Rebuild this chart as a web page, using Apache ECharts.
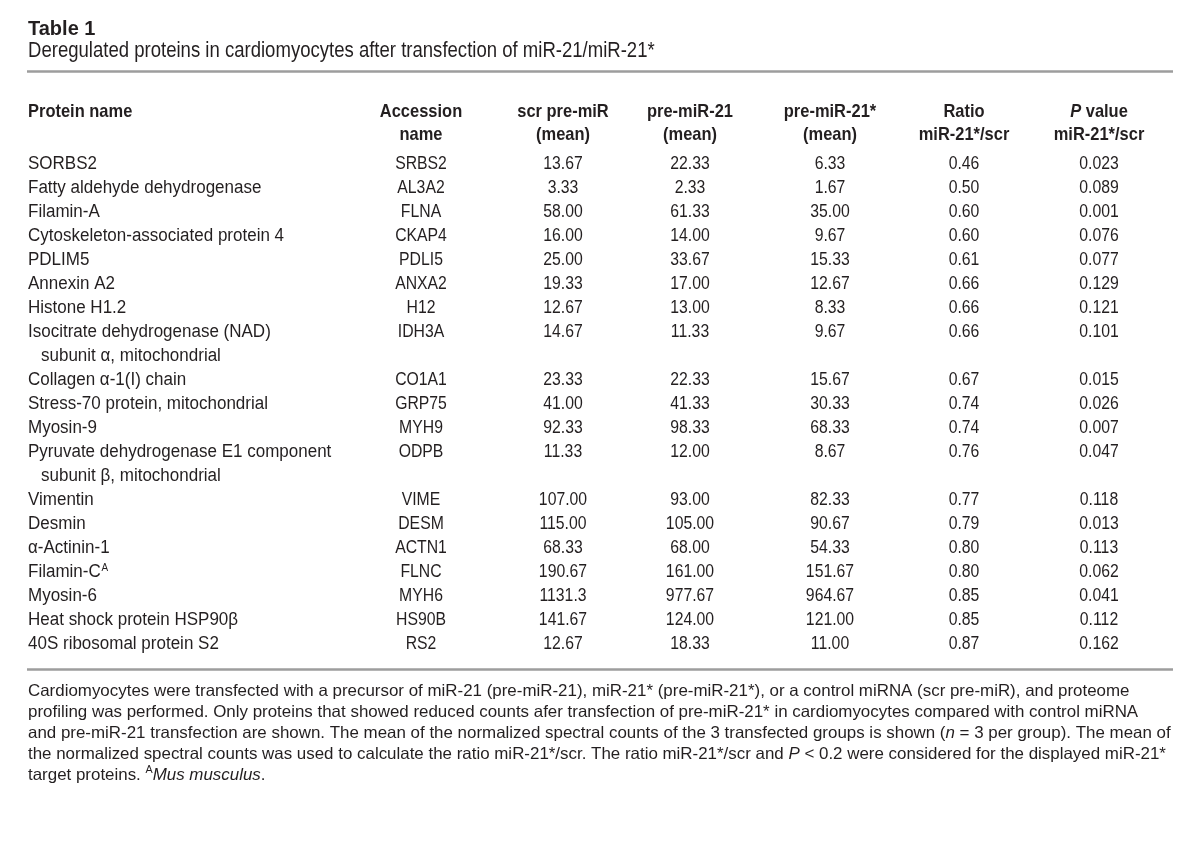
<!DOCTYPE html>
<html><head><meta charset="utf-8">
<script src="https://cdn.jsdelivr.net/npm/echarts@6/dist/echarts.min.js"></script>
<style>html,body{margin:0;padding:0;background:#fff}#c{width:1200px;height:843px}</style>
</head><body><div id="c"></div>
<script>
// ---------------- data ----------------
const TITLE = 'Table 1';
const SUBTITLE = 'Deregulated proteins in cardiomyocytes after transfection of miR-21/miR-21*';
const HEADERS = [
  ['Protein name', ''],
  ['Accession', 'name'],
  ['scr pre-miR', '(mean)'],
  ['pre-miR-21', '(mean)'],
  ['pre-miR-21*', '(mean)'],
  ['Ratio', 'miR-21*/scr'],
  ['{bi|P} value', 'miR-21*/scr']
];
const proteinNames = [
  'SORBS2',
  'Fatty aldehyde dehydrogenase',
  'Filamin-A',
  'Cytoskeleton-associated protein 4',
  'PDLIM5',
  'Annexin A2',
  'Histone H1.2',
  'Isocitrate dehydrogenase (NAD)\nsubunit \u03b1, mitochondrial',
  'Collagen \u03b1-1(I) chain',
  'Stress-70 protein, mitochondrial',
  'Myosin-9',
  'Pyruvate dehydrogenase E1 component\nsubunit \u03b2, mitochondrial',
  'Vimentin',
  'Desmin',
  '\u03b1-Actinin-1',
  'Filamin-C{sup|A}',
  'Myosin-6',
  'Heat shock protein HSP90\u03b2',
  '40S ribosomal protein S2'
];
const accessions = ['SRBS2','AL3A2','FLNA','CKAP4','PDLI5','ANXA2','H12','IDH3A','CO1A1','GRP75','MYH9','ODPB','VIME','DESM','ACTN1','FLNC','MYH6','HS90B','RS2'];
const scrMean          = [13.67, 3.33, 58.00, 16.00, 25.00, 19.33, 12.67, 14.67, 23.33, 41.00, 92.33, 11.33, 107.00, 115.00, 68.33, 190.67, 1131.3, 141.67, 12.67];
const preMiR21Mean     = [22.33, 2.33, 61.33, 14.00, 33.67, 17.00, 13.00, 11.33, 22.33, 41.33, 98.33, 12.00, 93.00, 105.00, 68.00, 161.00, 977.67, 124.00, 18.33];
const preMiR21StarMean = [6.33, 1.67, 35.00, 9.67, 15.33, 12.67, 8.33, 9.67, 15.67, 30.33, 68.33, 8.67, 82.33, 90.67, 54.33, 151.67, 964.67, 121.00, 11.00];
const ratioStarScr     = [0.46, 0.50, 0.60, 0.60, 0.61, 0.66, 0.66, 0.66, 0.67, 0.74, 0.74, 0.76, 0.77, 0.79, 0.80, 0.80, 0.85, 0.85, 0.87];
const pValueStarScr    = [0.023, 0.089, 0.001, 0.076, 0.077, 0.129, 0.121, 0.101, 0.015, 0.026, 0.007, 0.047, 0.118, 0.013, 0.113, 0.062, 0.041, 0.112, 0.162];
const FOOTNOTE = [
  'Cardiomyocytes were transfected with a precursor of miR-21 (pre-miR-21), miR-21* (pre-miR-21*), or a control miRNA (scr pre-miR), and proteome',
  'profiling was performed. Only proteins that showed reduced counts afer transfection of pre-miR-21* in cardiomyocytes compared with control miRNA',
  'and pre-miR-21 transfection are shown. The mean of the normalized spectral counts of the 3 transfected groups is shown ({i|n} = 3 per group). The mean of',
  'the normalized spectral counts was used to calculate the ratio miR-21*/scr. The ratio miR-21*/scr and {i|P} < 0.2 were considered for the displayed miR-21*',
  'target proteins. {sup|A}{i|Mus musculus}.'
];

// ---------------- layout / style ----------------
const INK = '#231f20';
const RULE = '#9d9d9d';
const SANS = "'Liberation Sans', Arial, Helvetica, sans-serif";
const COL_X = [28, 421, 563, 690, 830, 964, 1099];
const INDENT = 13;
const BODY_SIZE = 18.8, NAME_SX = 0.905, CELL_SX = 0.84;
const HEAD_SIZE = 18.5, HEAD_SX = 0.89;
const HEAD_LINES = [-2.19, -1.21];

function fmtMean(v) { return v >= 1000 ? v.toFixed(1) : v.toFixed(2); }

// line index where each row starts (multi-line names take more lines)
const lineStart = [];
(function () {
  let l = 0;
  proteinNames.forEach(n => { lineStart.push(l); l += n.split('\n').length; });
})();

function richFor(size, bold) {
  const w = bold ? 'bold' : 'normal';
  return {
    sup: { fontSize: Math.round(size * 0.6), fontFamily: SANS, fontWeight: w, fill: INK, verticalAlign: 'top', padding: [0, 0, 0, 1] },
    bi: { fontSize: size, fontFamily: SANS, fontWeight: 'bold', fontStyle: 'italic', fill: INK },
    i: { fontSize: size, fontFamily: SANS, fontWeight: w, fontStyle: 'italic', fill: INK }
  };
}
function textEl(p, text, align, bold, sx) {
  const size = bold ? HEAD_SIZE : BODY_SIZE;
  return {
    type: 'text', x: p[0], y: p[1], scaleX: sx,
    style: {
      text: text, align: align, verticalAlign: 'middle', fill: INK,
      fontFamily: SANS, fontSize: size, fontWeight: bold ? 'bold' : 'normal',
      rich: richFor(size, bold)
    }
  };
}

function renderRow(params, api) {
  const r = params.dataIndex;
  const line = api.value(1);
  const children = [];
  proteinNames[r].split('\n').forEach((t, k) => {
    const p = api.coord([COL_X[0] + (k ? INDENT : 0), line + k]);
    children.push(textEl(p, t, 'left', false, NAME_SX));
  });
  const cells = [accessions[r], fmtMean(scrMean[r]), fmtMean(preMiR21Mean[r]), fmtMean(preMiR21StarMean[r]),
                 ratioStarScr[r].toFixed(2), pValueStarScr[r].toFixed(3)];
  cells.forEach((t, c) => {
    children.push(textEl(api.coord([COL_X[c + 1], line]), t, 'center', false, CELL_SX));
  });
  return { type: 'group', children: children };
}
function renderHeader(params, api) {
  const children = [];
  HEADERS.forEach((h, c) => {
    h.forEach((t, k) => {
      if (!t) return;
      const p = api.coord([COL_X[c], HEAD_LINES[k]]);
      children.push(textEl(p, t, c === 0 ? 'left' : 'center', true, HEAD_SX));
    });
  });
  return { type: 'group', children: children };
}

const chart = echarts.init(document.getElementById('c'), null, { renderer: 'canvas' });
const FOOT_SIZE = 16.5;
const footRich = {
  i: { fontFamily: SANS, fontSize: FOOT_SIZE, fontStyle: 'italic', fill: INK },
  sup: { fontFamily: SANS, fontSize: 10.5, fill: INK, verticalAlign: 'top' }
};
chart.setOption({
  backgroundColor: '#fff',
  animation: false,
  grid: { left: 0, right: 0, top: 92, height: 576 },
  xAxis: { type: 'value', min: 0, max: 1200, show: false },
  yAxis: { type: 'value', min: -3, max: 21, inverse: true, show: false },
  graphic: [
    { type: 'text', x: 28, y: 29, style: { text: TITLE, fontFamily: SANS, fontSize: 20, fontWeight: 'bold', fill: INK, verticalAlign: 'middle' } },
    { type: 'text', x: 28, y: 51, scaleX: 0.843, style: { text: SUBTITLE, fontFamily: SANS, fontSize: 22, fill: INK, verticalAlign: 'middle' } },
    { type: 'line', shape: { x1: 27, y1: 71.5, x2: 1173, y2: 71.5 }, style: { stroke: RULE, lineWidth: 2.5 } },
    { type: 'line', shape: { x1: 27, y1: 669.5, x2: 1173, y2: 669.5 }, style: { stroke: RULE, lineWidth: 2.5 } },
    { type: 'text', x: 28, y: 681, scaleX: 1.025, style: { text: FOOTNOTE.join('\n'), fontFamily: SANS, fontSize: FOOT_SIZE, lineHeight: 21, fill: INK, verticalAlign: 'top', rich: footRich } }
  ],
  series: [
    { type: 'custom', name: 'header', clip: false, silent: true, data: [[0, HEAD_LINES[0]]], renderItem: renderHeader },
    { type: 'custom', name: 'rows', clip: false, silent: true, data: lineStart.map(l => [0, l]), renderItem: renderRow }
  ]
});
</script></body></html>
